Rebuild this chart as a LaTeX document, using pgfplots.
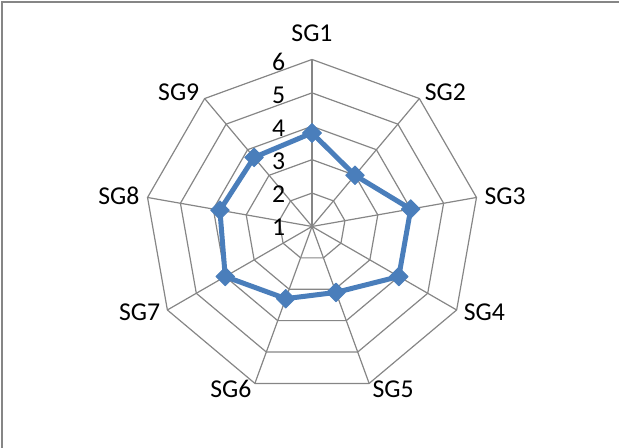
\documentclass[border=0pt]{standalone}
\usepackage{pgfplots}
\pgfplotsset{compat=1.18}
\usepackage{pgfplotstable}
\usepackage{fontspec}
\setmainfont{Carlito}
\definecolor{sblue}{RGB}{74,126,187}
\definecolor{gridgray}{RGB}{134,134,134}
\pgfplotstableread{
ang v
90 3.8
50 3.0
10 4.0
-30 4.0
-70 3.1
-110 3.3
-150 4.0
170 3.8
130 3.7
90 3.8
}\radar
\begin{document}
\begin{tikzpicture}[every node/.append style={font=\fontsize{12.85}{15}\selectfont}]
\useasboundingbox (0,0) rectangle (309.5pt,224pt);
\begin{axis}[at={(0,0)}, anchor=south west, x=16.7pt, y=16.7pt,
  xmin=-9.341, xmax=9.192, ymin=-6.632, ymax=6.781, hide axis, clip=false]
\draw[gridgray, line width=0.75pt] (axis cs:-9.28,-8) -- (axis cs:-9.28,6.72) -- (axis cs:10,6.72);
\pgfplotsinvokeforeach{90,50,10,-30,-70,-110,-150,170,130}{
  \addplot[gridgray, line width=0.6pt, data cs=polar, forget plot] coordinates {(#1,0) (#1,5)};
}
\pgfplotsinvokeforeach{1,2,3,4,5}{
  \addplot[gridgray, line width=0.6pt, data cs=polar, forget plot] coordinates {(90,#1) (50,#1) (10,#1) (-30,#1) (-70,#1) (-110,#1) (-150,#1) (170,#1) (130,#1) (90,#1) (50,#1)};
}
\addplot[sblue, line width=2.5pt, line join=round, mark=square*, mark size=3.3pt,
  mark options={rotate=45, solid, fill=sblue, line width=0.4pt}, data cs=polar]
  table[x=ang, y expr=\thisrow{v}-1] {\radar};
\node at (axis cs:0,5.79) {SG1};
\node at (axis cs:3.99,4.03) {SG2};
\node at (axis cs:5.78,0.91) {SG3};
\node at (axis cs:5.16,-2.56) {SG4};
\node at (axis cs:2.43,-4.87) {SG5};
\node at (axis cs:-2.43,-4.87) {SG6};
\node at (axis cs:-5.16,-2.56) {SG7};
\node at (axis cs:-5.78,0.91) {SG8};
\node at (axis cs:-3.99,4.03) {SG9};
\node at (axis cs:-1.0,4.93) {6};
\node at (axis cs:-1.0,3.94) {5};
\node at (axis cs:-1.0,2.94) {4};
\node at (axis cs:-1.0,1.96) {3};
\node at (axis cs:-1.0,0.97) {2};
\node at (axis cs:-1.0,-0.03) {1};
\end{axis}
\end{tikzpicture}
\end{document}
